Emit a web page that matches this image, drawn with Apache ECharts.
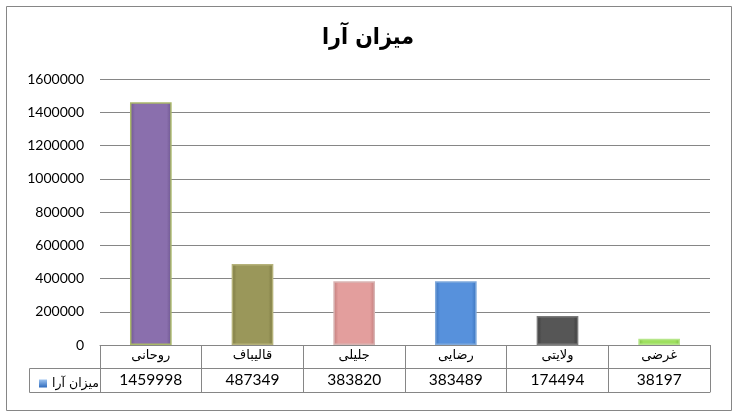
<!DOCTYPE html>
<html>
<head>
<meta charset="utf-8">
<script src="https://cdn.jsdelivr.net/npm/echarts@6/dist/echarts.min.js"></script>
<style>
html,body{margin:0;padding:0;background:#fff;}
#c{width:736px;height:417px;}
</style>
</head>
<body>
<div id="c"></div>
<script>
var titleText = 'میزان آرا';
var seriesName = 'میزان آرا';
var categories = ['روحانی', 'قالیباف', 'جلیلی', 'رضایی', 'ولایتی', 'غرضی'];
var votes = [1459998, 487349, 383820, 383489, 174494, 38197];
var barColors = ['#8a6fad', '#9a975a', '#e39e9d', '#5791dc', '#565656', '#9ee05f'];
var edgeColors = ['#6d5590', '#7a7740', '#c07a79', '#3a72bb', '#3a3a3a', '#7fbf42'];
var topColors = ['#a9b86a', '#b5b27a', '#d9b5b4', '#7fa9dc', '#7a7a7a', '#b6e68a'];
var yMin = 0, yMax = 1600000, yStep = 200000;

var chart = echarts.init(document.getElementById('c'));
var gridLine = '#868686';
var arabicFont = 'DejaVu Sans';
var numFont = 'Lato';

var data = votes.map(function (v, i) {
  return {
    value: v,
    itemStyle: {
      color: {
        type: 'linear', x: 0, y: 0, x2: 1, y2: 0,
        colorStops: [
          {offset: 0, color: edgeColors[i]},
          {offset: 0.12, color: barColors[i]},
          {offset: 0.88, color: barColors[i]},
          {offset: 1, color: edgeColors[i]}
        ]
      },
      borderColor: topColors[i],
      borderWidth: 1.5
    }
  };
});

chart.setOption({
  animation: false,
  title: {
    text: titleText,
    left: 'center',
    top: 22,
    textStyle: {fontFamily: "'DejaVu Sans Condensed', 'DejaVu Sans'", fontSize: 23, fontWeight: 'bold', color: '#000'}
  },
  legend: {
    left: 34,
    top: 372,
    itemWidth: 8,
    itemHeight: 8,
    itemGap: 4,
    icon: 'rect',
    data: [{name: seriesName, itemStyle: {color: {
      type: 'linear', x: 0, y: 0, x2: 0, y2: 1,
      colorStops: [{offset: 0, color: '#9cc3f0'}, {offset: 1, color: '#2f6bbd'}]
    }}}],
    textStyle: {fontFamily: arabicFont, fontSize: 12.5, color: '#000', padding: [0, 0, 0, 0]}
  },
  grid: {left: 100, right: 26, top: 79, bottom: 72, containLabel: false},
  xAxis: [
    {
      type: 'category',
      data: categories,
      position: 'bottom',
      axisLine: {show: true, lineStyle: {color: gridLine, width: 1}},
      axisTick: {show: true, length: 47, lineStyle: {color: gridLine}},
      axisLabel: {margin: 4, fontFamily: arabicFont, fontSize: 13, color: '#000', interval: 0}
    },
    {
      type: 'category',
      data: categories,
      position: 'bottom',
      offset: 23,
      axisLine: {show: true, lineStyle: {color: gridLine, width: 1}},
      axisTick: {show: false},
      axisLabel: {
        margin: 4, fontFamily: numFont, fontSize: 15.5, color: '#000', interval: 0,
        formatter: function (v, i) { return String(votes[i]); }
      }
    },
    {
      type: 'category',
      data: categories,
      position: 'bottom',
      offset: 47,
      axisLine: {show: true, lineStyle: {color: gridLine, width: 1}},
      axisTick: {show: false},
      axisLabel: {show: false}
    }
  ],
  yAxis: {
    type: 'value',
    min: yMin,
    max: yMax,
    interval: yStep,
    axisLine: {show: false},
    axisTick: {show: false},
    splitLine: {lineStyle: {color: gridLine, width: 1}},
    axisLabel: {
      margin: 16, fontFamily: numFont, fontSize: 14, color: '#000',
      formatter: function (v) { return String(v); }
    }
  },
  series: [{
    name: seriesName,
    type: 'bar',
    xAxisIndex: 0,
    barWidth: '41%',
    data: data,
    itemStyle: {color: '#4f81bd'}
  }],
  graphic: [
    {type: 'rect', shape: {x: 6.5, y: 6.5, width: 725, height: 404}, style: {fill: 'none', stroke: '#868686', lineWidth: 1}, z: -1},
    {type: 'line', shape: {x1: 29.5, y1: 368.5, x2: 100.5, y2: 368.5}, style: {stroke: gridLine, lineWidth: 1}},
    {type: 'line', shape: {x1: 29.5, y1: 392.5, x2: 100.5, y2: 392.5}, style: {stroke: gridLine, lineWidth: 1}},
    {type: 'line', shape: {x1: 29.5, y1: 368.5, x2: 29.5, y2: 392.5}, style: {stroke: gridLine, lineWidth: 1}}
  ]
});
</script>
</body>
</html>
